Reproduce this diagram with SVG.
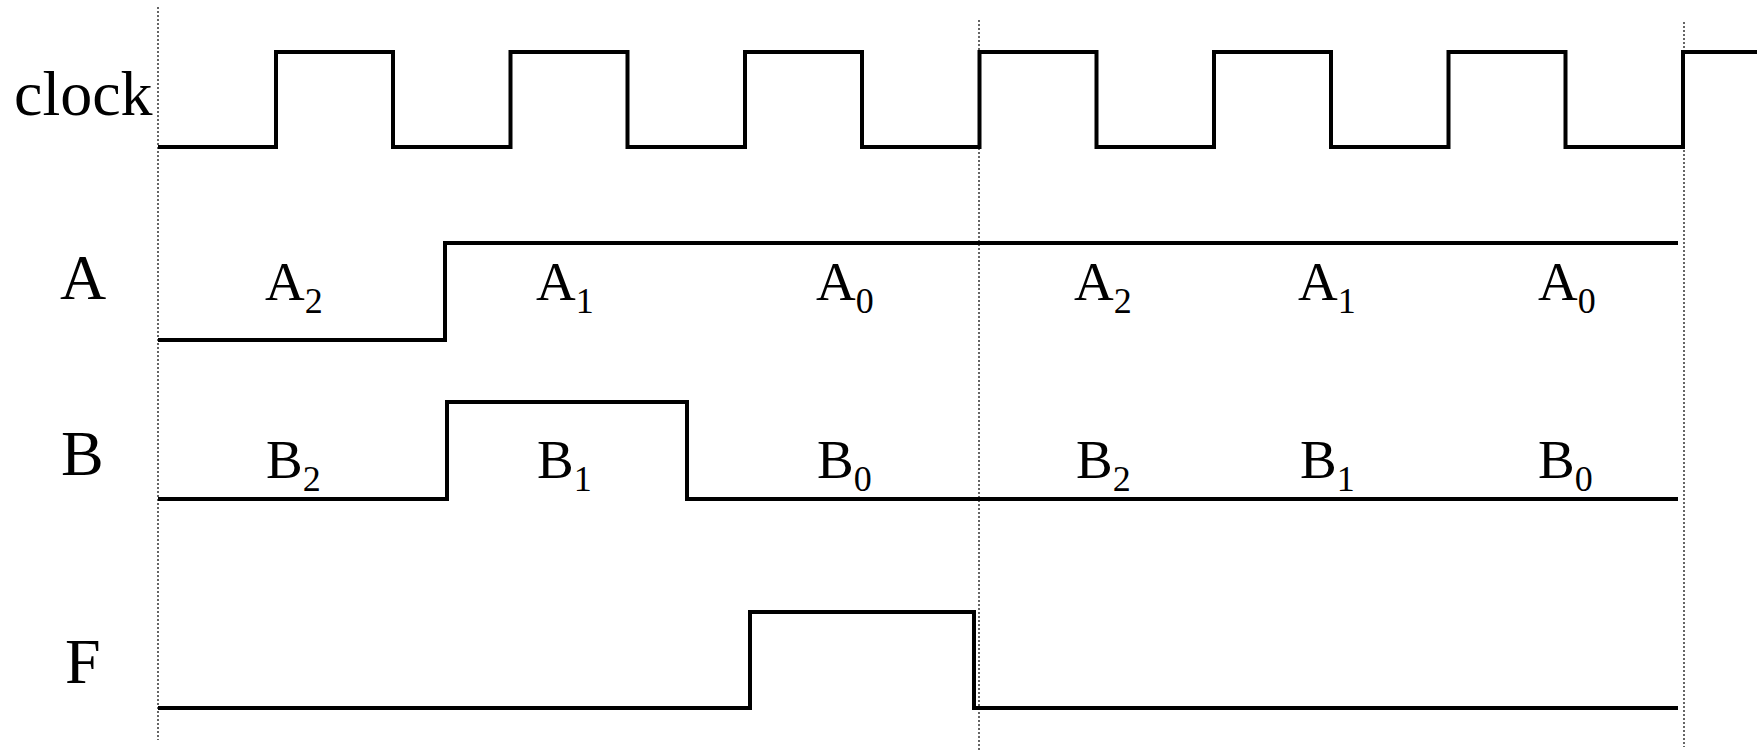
<svg xmlns="http://www.w3.org/2000/svg" width="1762" height="750" viewBox="0 0 1762 750">
<style>
.sig{fill:none;stroke:#000;stroke-width:4;stroke-linejoin:miter;stroke-linecap:butt}
.grid{fill:none;stroke:#333;stroke-width:1.5;stroke-dasharray:2 2}
.name{font-family:"Liberation Serif","Times New Roman",serif;font-size:64px;fill:#000}
.val{font-family:"Liberation Serif","Times New Roman",serif;font-size:55px;fill:#000}
.sub{font-size:36px}
</style>
<rect width="1762" height="750" fill="#fff"/>
<g id="gridlines">
<line class="grid" x1="158" y1="7" x2="158" y2="740"/>
<line class="grid" x1="979" y1="20" x2="979" y2="750"/>
<line class="grid" x1="1684" y1="22" x2="1684" y2="747"/>
</g>
<g id="clock">
<text class="name" x="14" y="115">clock</text>
<path class="sig" d="M158 147 H276 V52 H393 V147 H510.5 V52 H627.5 V147 H745 V52 H862 V147 H979.5 V52 H1096.5 V147 H1214 V52 H1331 V147 H1448.5 V52 H1565.5 V147 H1683 V52 H1757"/>
</g>
<g id="A">
<text class="name" x="60" y="299">A</text>
<path class="sig" d="M158 340 H445 V243 H1678"/>
<text class="val" x="265" y="300">A<tspan class="sub" dy="13">2</tspan></text>
<text class="val" x="536" y="300">A<tspan class="sub" dy="13">1</tspan></text>
<text class="val" x="816" y="300">A<tspan class="sub" dy="13">0</tspan></text>
<text class="val" x="1074" y="300">A<tspan class="sub" dy="13">2</tspan></text>
<text class="val" x="1298" y="300">A<tspan class="sub" dy="13">1</tspan></text>
<text class="val" x="1538" y="300">A<tspan class="sub" dy="13">0</tspan></text>
</g>
<g id="B">
<text class="name" x="61" y="475">B</text>
<path class="sig" d="M158 499 H447 V402 H687 V499 H1678"/>
<text class="val" x="266" y="478">B<tspan class="sub" dy="13">2</tspan></text>
<text class="val" x="537" y="478">B<tspan class="sub" dy="13">1</tspan></text>
<text class="val" x="817" y="478">B<tspan class="sub" dy="13">0</tspan></text>
<text class="val" x="1076" y="478">B<tspan class="sub" dy="13">2</tspan></text>
<text class="val" x="1300" y="478">B<tspan class="sub" dy="13">1</tspan></text>
<text class="val" x="1538" y="478">B<tspan class="sub" dy="13">0</tspan></text>
</g>
<g id="F">
<text class="name" x="65" y="683">F</text>
<path class="sig" d="M158 708 H750 V612 H974 V708 H1678"/>
</g>
</svg>
